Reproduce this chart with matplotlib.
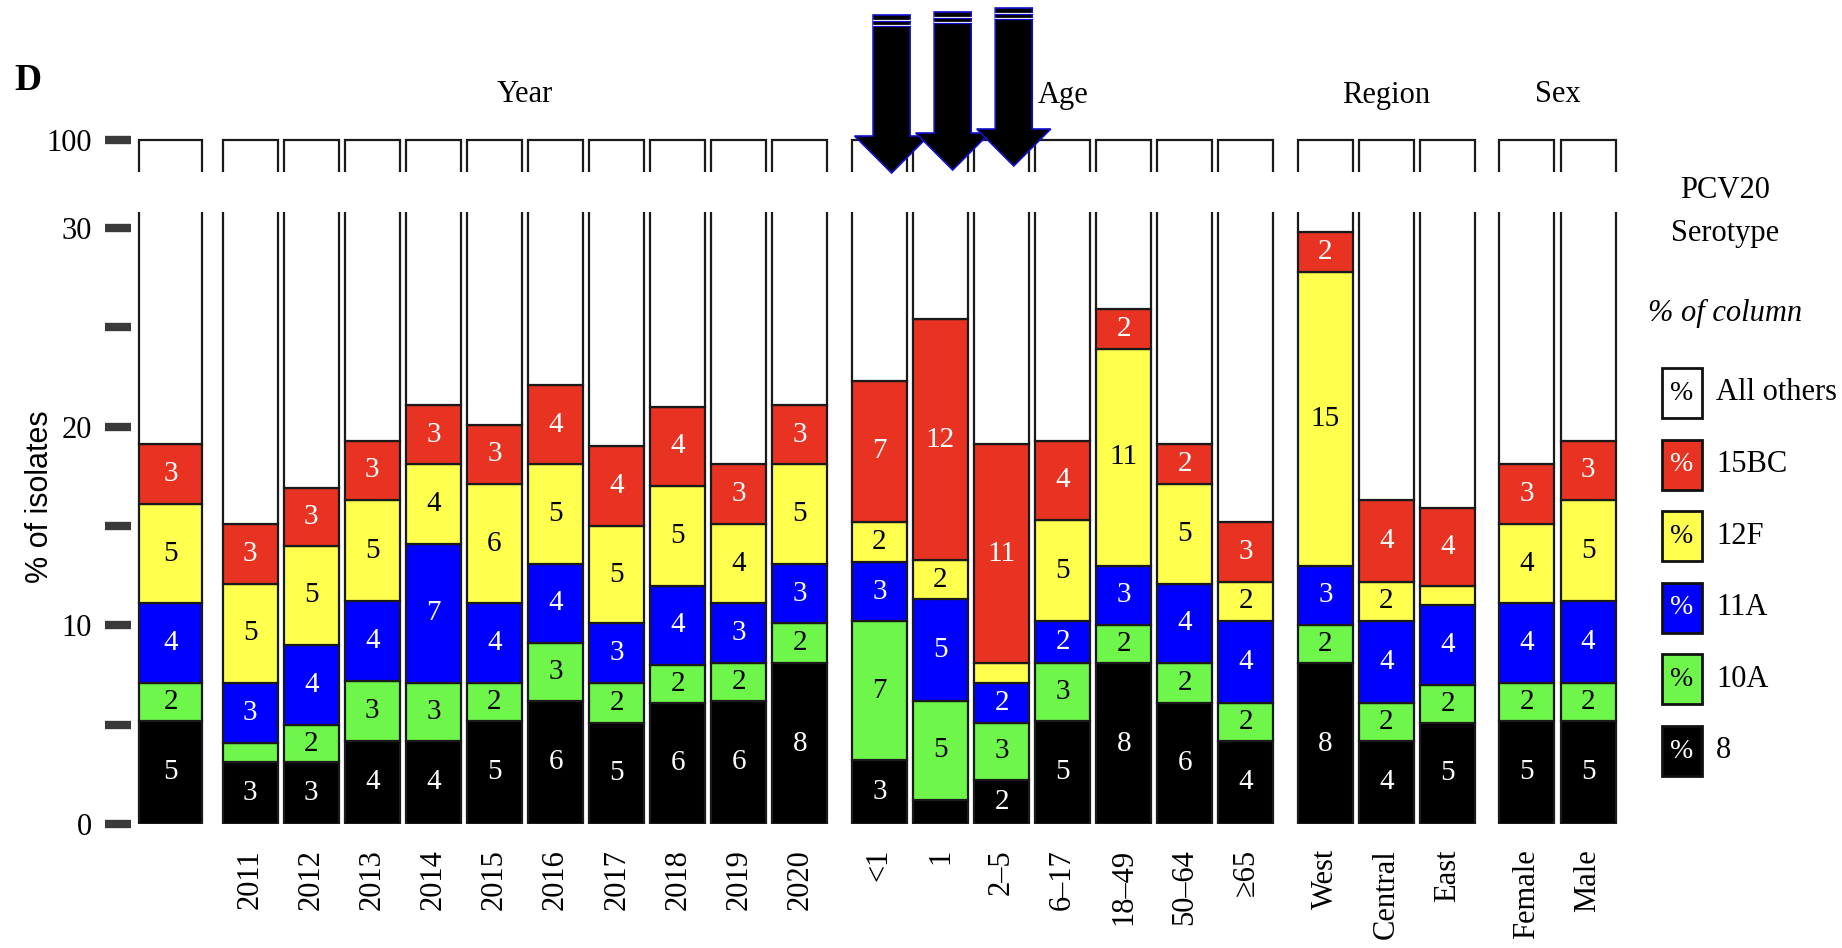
import matplotlib.pyplot as plt
from matplotlib import transforms
from matplotlib.patches import Rectangle, Polygon

SERIF = ['Liberation Serif', 'DejaVu Serif']

# column labels, grouped
overall = ['']
years = ['2011', '2012', '2013', '2014', '2015', '2016', '2017', '2018', '2019', '2020']
ages = ['<1', '1', '2–5', '6–17', '18–49', '50–64', '≥65']
regions = ['West', 'Central', 'East']
sexes = ['Female', 'Male']
group_titles = ['Year', 'Age', 'Region', 'Sex']

# % of isolates per column, stacked bottom to top: 8, 10A, 11A, 12F, 15BC
pct_8 = [5.2, 3.1, 3.1, 4.2, 4.2, 5.2, 6.2, 5.1, 6.1, 6.2, 8.1,
         3.2, 1.2, 2.2, 5.2, 8.1, 6.1, 4.2, 8.1, 4.2, 5.1, 5.2, 5.2]
pct_10a = [1.9, 1.0, 1.9, 3.0, 2.9, 1.9, 2.9, 2.0, 1.9, 1.9, 2.0,
           7.0, 5.0, 2.9, 2.9, 1.9, 2.0, 1.9, 1.9, 1.9, 1.9, 1.9, 1.9]
pct_11a = [4.0, 3.0, 4.0, 4.0, 7.0, 4.0, 4.0, 3.0, 4.0, 3.0, 3.0,
           3.0, 5.1, 2.0, 2.1, 3.0, 4.0, 4.1, 3.0, 4.1, 4.0, 4.0, 4.1]
pct_12f = [5.0, 5.0, 5.0, 5.1, 4.0, 6.0, 5.0, 4.9, 5.0, 4.0, 5.0,
           2.0, 2.0, 1.0, 5.1, 10.9, 5.0, 2.0, 14.8, 2.0, 1.0, 4.0, 5.1]
pct_15bc = [3.0, 3.0, 2.9, 3.0, 3.0, 3.0, 4.0, 4.0, 4.0, 3.0, 3.0,
            7.1, 12.1, 11.0, 4.0, 2.0, 2.0, 3.0, 2.0, 4.1, 3.9, 3.0, 3.0]

serotypes = ['8', '10A', '11A', '12F', '15BC']
series = [pct_8, pct_10a, pct_11a, pct_12f, pct_15bc]
colors = ['#000000', '#6ef74a', '#0000ff', '#ffff4d', '#e83323']
text_colors = ['white', 'black', 'white', 'black', 'white']
legend_order = [('All others', '#ffffff', 'black')] + \
    [(s, c, t) for s, c, t in zip(serotypes[::-1], colors[::-1], text_colors[::-1])]

# x positions: one unit per column, extra space between groups
groups = [overall, years, ages, regions, sexes]
gap = 0.3
xpos, labels, widths, group_x = [], [], [], []
x = 0.0
for gi, g in enumerate(groups):
    if gi > 0:
        x += gap
    start = x
    for lab in g:
        xpos.append(x)
        labels.append(lab)
        widths.append(1.03 if gi == 0 else 0.9)
        x += 1
    group_x.append((start + x - 1) / 2)

W, H = 1842, 948
fig = plt.figure(figsize=(W / 100, H / 100), dpi=100)


def px_axes(left, top, right, bottom):
    return fig.add_axes([left / W, 1 - bottom / H, (right - left) / W, (bottom - top) / H])


ax = px_axes(131, 212, 1621, 824)
ax_top = px_axes(131, 138, 1621, 172)
edge = '#1a1a1a'

for a in (ax, ax_top):
    for i, xc in enumerate(xpos):
        bottom = 0.0
        for k, vals in enumerate(series):
            v = vals[i]
            a.bar(xc, v, bottom=bottom, width=widths[i], color=colors[k],
                  edgecolor=edge, linewidth=1.6)
            if a is ax and v >= 1.5:
                a.text(xc, bottom + v / 2, f'{round(v)}', ha='center', va='center',
                       fontsize=21, color=text_colors[k], family=SERIF)
            bottom += v
        a.bar(xc, 100 - bottom, bottom=bottom, width=widths[i], color='white',
              edgecolor=edge, linewidth=1.6)
    a.set_xlim(-0.65, 23.74)
    for s in a.spines.values():
        s.set_visible(False)
    a.tick_params(axis='y', length=19, width=6, color='#3a3a3a', pad=9,
                  labelsize=22)
    for t in a.get_yticklabels():
        t.set_family(SERIF)

ax.set_ylim(0, 30.8)
ax.set_yticks([0, 5, 10, 15, 20, 25, 30])
ax.set_yticklabels(['0', '', '10', '', '20', '', '30'], family=SERIF, fontsize=22)
ax.set_xticks(xpos)
ax.set_xticklabels(labels, rotation=90, family=SERIF, fontsize=22)
ax.tick_params(axis='x', length=0, pad=18)

ax_top.set_ylim(98.4, 100.1)
ax_top.set_yticks([100])
ax_top.set_yticklabels(['100'], family=SERIF, fontsize=22)
ax_top.set_xticks([])

fig.text(40 / W, 1 - 497 / H, '% of isolates', rotation=90, ha='center', va='center',
         fontsize=22, family=['Liberation Sans', 'DejaVu Sans'])

# group headings above the columns
blend = transforms.blended_transform_factory(ax.transData, fig.transFigure)
for gx, title in zip(group_x[1:], group_titles):
    ax.text(gx, 1 - 95 / H, title, transform=blend, ha='center', va='center',
            fontsize=22, family=SERIF)

# overlay in pixel coordinates for panel letter, arrows and legend
ov = fig.add_axes([0, 0, 1, 1])
ov.set_xlim(0, W)
ov.set_ylim(H, 0)
ov.axis('off')

ov.text(14, 90, 'D', fontsize=27, fontweight='bold', family=SERIF, va='baseline')

fig.canvas.draw()
arrow_tops = [(15, 136, 173), (12, 133, 170), (8, 129, 166)]
for j, (top, base, tip) in enumerate(arrow_tops):
    cx = ax.transData.transform((xpos[11 + j] + 0.2, 0))[0]
    hw, hh = 18.5, 37
    pts = [(cx - hw, top), (cx + hw, top), (cx + hw, base), (cx + hh, base),
           (cx, tip), (cx - hh, base), (cx - hw, base)]
    ov.add_patch(Polygon(pts, closed=True, facecolor='black', edgecolor='#1010d0',
                         linewidth=1.2, zorder=5))
    for dy in (4.5, 10):
        ov.plot([cx - hw, cx + hw], [top + dy, top + dy], color='white', lw=0.9, zorder=6)
        ov.plot([cx - hw, cx + hw], [top + dy + 1.3, top + dy + 1.3], color='#1010d0',
                lw=0.9, zorder=6)

# legend
ov.text(1725, 190, 'PCV20', ha='center', va='center', fontsize=22, family=SERIF)
ov.text(1725, 233, 'Serotype', ha='center', va='center', fontsize=22, family=SERIF)
ov.text(1725, 313, '% of column', ha='center', va='center', fontsize=22,
        family=SERIF, style='italic')
for n, (name, fc, tc) in enumerate(legend_order):
    yc = 393 + n * 71.6
    ov.add_patch(Rectangle((1662, yc - 25), 40, 50, facecolor=fc, edgecolor='#111111',
                           linewidth=2))
    ov.text(1682, yc, '%', ha='center', va='center', fontsize=20, color=tc, family=SERIF)
    ov.text(1716, yc, name, ha='left', va='center', fontsize=22, family=SERIF)

fig.savefig('out.png', dpi=100)
